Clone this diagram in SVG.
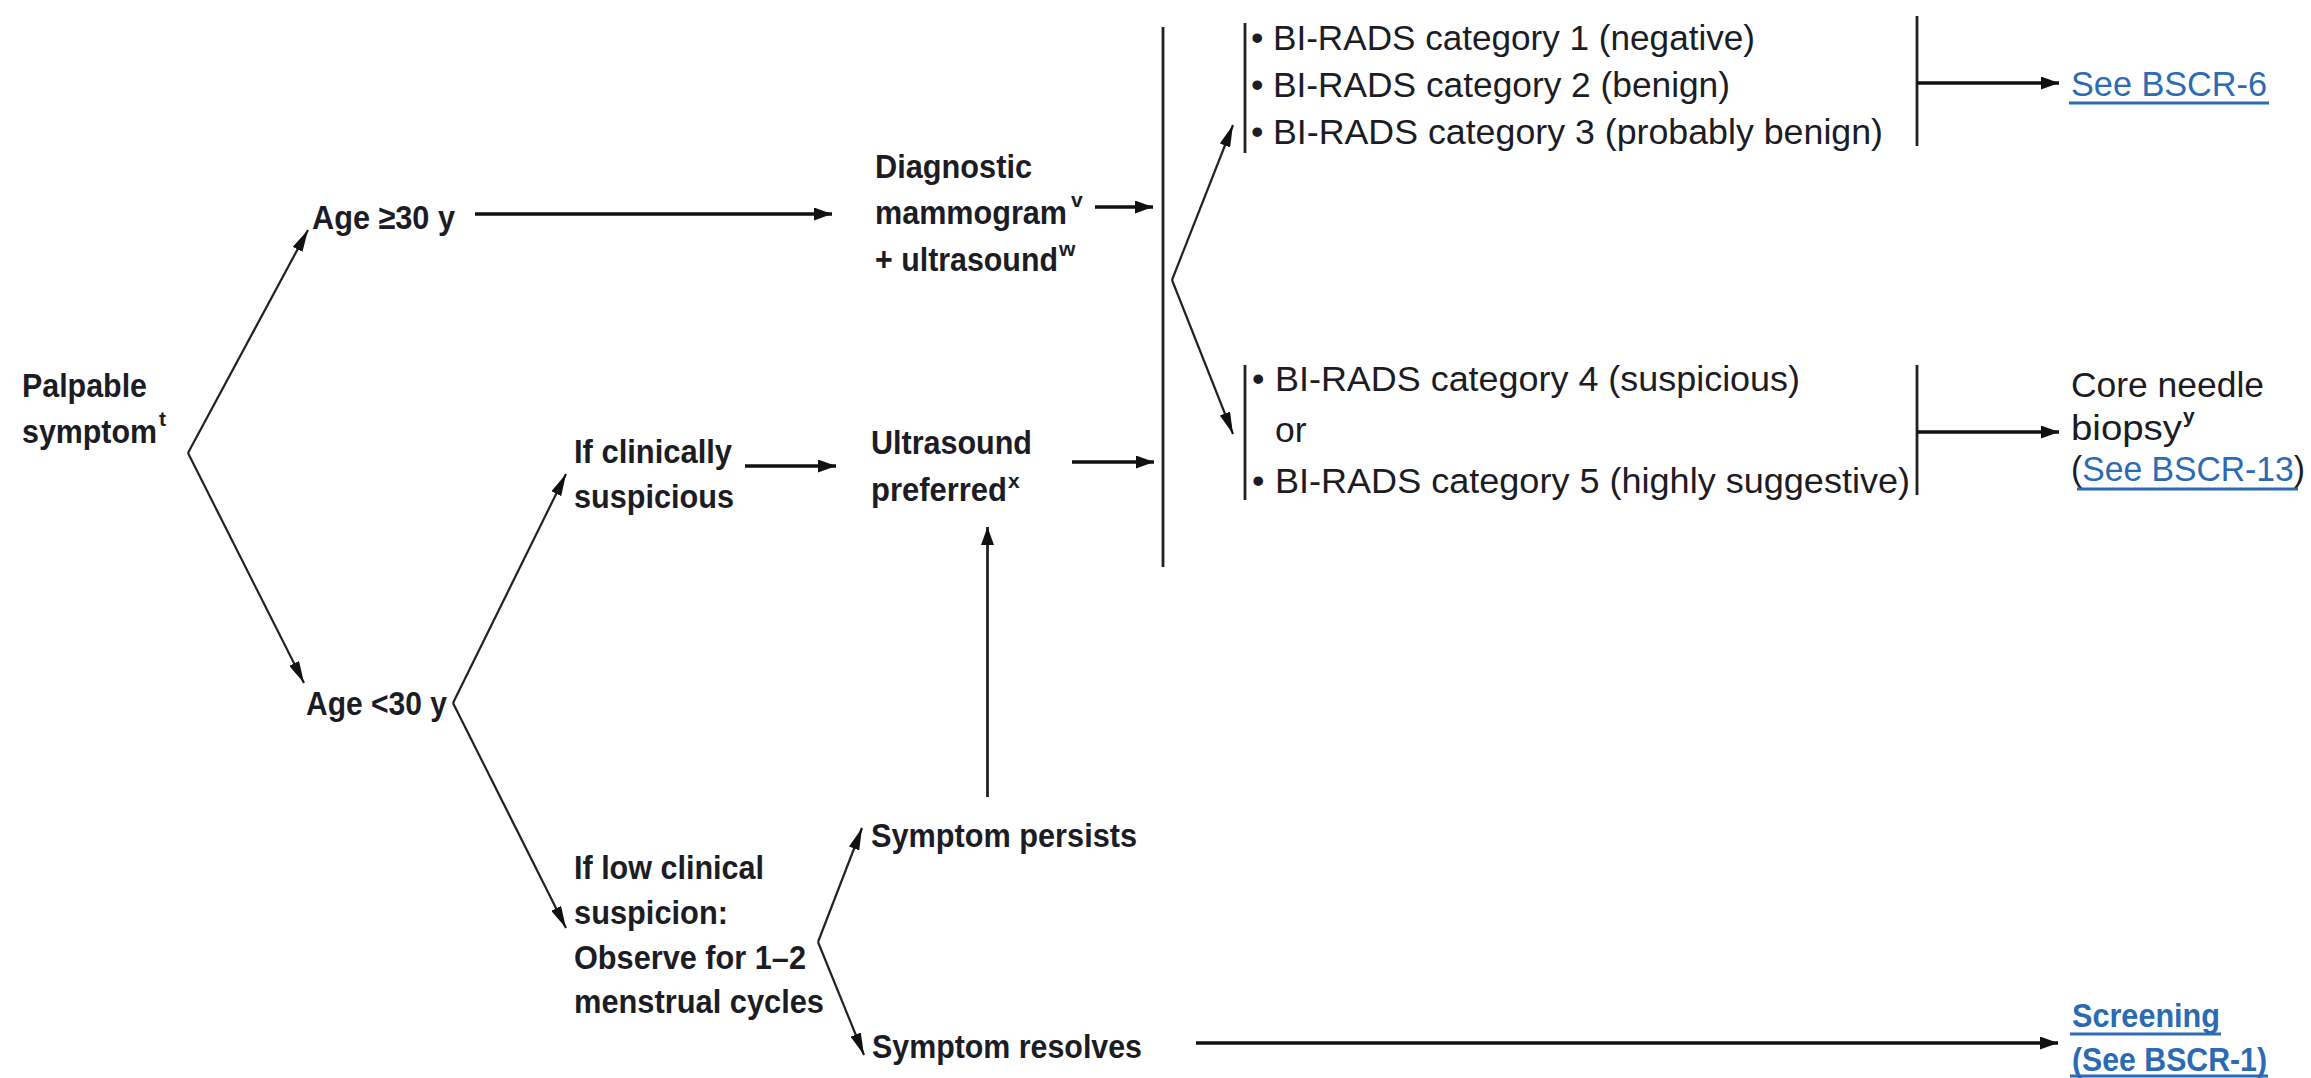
<svg xmlns="http://www.w3.org/2000/svg" width="2311" height="1078" viewBox="0 0 2311 1078">
  <style>
    .bc { font-family: "Liberation Sans Narrow", "Liberation Sans", Arial, sans-serif; font-weight: bold; font-size: 34px; fill: #1c1c24; }
    .rg { font-family: "Liberation Sans", Arial, sans-serif; font-size: 35.5px; fill: #1c1c24; }
    .sup { font-family: "Liberation Sans", Arial, sans-serif; font-weight: bold; font-size: 21px; fill: #1c1c24; }
    .link { fill: #2c6bb3; }
    .ul { stroke: #2c6bb3; stroke-width: 3; }
    .thick { stroke: #111; stroke-width: 3.5; fill: none; }
    .thin { stroke: #222; stroke-width: 2.2; fill: none; }
    .bar { stroke: #222; stroke-width: 2.8; fill: none; }
  </style>
  <defs>
    <marker id="ah" viewBox="0 0 18 13" refX="18" refY="6.5" markerWidth="18" markerHeight="13" markerUnits="userSpaceOnUse" orient="auto">
      <path d="M0,0 L18,6.5 L0,13 z" fill="#111"/>
    </marker>
    <marker id="ahs" viewBox="0 0 22 11" refX="22" refY="5.5" markerWidth="22" markerHeight="11" markerUnits="userSpaceOnUse" orient="auto">
      <path d="M0,0 L22,5.5 L0,11 z" fill="#111"/>
    </marker>
  </defs>
  <rect width="2311" height="1078" fill="#ffffff"/>

  <!-- connectors -->
  <g id="connectors">
    <line class="thin" x1="188" y1="453" x2="308" y2="230" marker-end="url(#ahs)"/>
    <line class="thin" x1="188" y1="453" x2="304" y2="683" marker-end="url(#ahs)"/>
    <line class="thick" x1="475" y1="214" x2="832" y2="214" marker-end="url(#ah)"/>
    <line class="thick" x1="1095" y1="207" x2="1153" y2="207" marker-end="url(#ah)"/>
    <line class="bar" x1="1163" y1="27" x2="1163" y2="567"/>
    <line class="thin" x1="1172" y1="280" x2="1233" y2="125" marker-end="url(#ahs)"/>
    <line class="thin" x1="1172" y1="280" x2="1233" y2="434" marker-end="url(#ahs)"/>
    <line class="bar" x1="1245" y1="23" x2="1245" y2="153"/>
    <line class="bar" x1="1245" y1="365" x2="1245" y2="500"/>
    <line class="bar" x1="1917" y1="16" x2="1917" y2="146"/>
    <line class="thick" x1="1917" y1="83" x2="2059" y2="83" marker-end="url(#ah)"/>
    <line class="bar" x1="1917" y1="365" x2="1917" y2="495"/>
    <line class="thick" x1="1917" y1="432" x2="2059" y2="432" marker-end="url(#ah)"/>
    <line class="thin" x1="453" y1="703" x2="566" y2="474" marker-end="url(#ahs)"/>
    <line class="thin" x1="453" y1="703" x2="566" y2="928" marker-end="url(#ahs)"/>
    <line class="thick" x1="745" y1="466" x2="836" y2="466" marker-end="url(#ah)"/>
    <line class="thick" x1="1072" y1="462" x2="1154" y2="462" marker-end="url(#ah)"/>
    <line class="bar" x1="987.5" y1="797" x2="987.5" y2="527" marker-end="url(#ah)"/>
    <line class="thin" x1="818" y1="942" x2="862" y2="828" marker-end="url(#ahs)"/>
    <line class="thin" x1="818" y1="942" x2="864" y2="1055" marker-end="url(#ahs)"/>
    <line class="thick" x1="1196" y1="1043" x2="2058" y2="1043" marker-end="url(#ah)"/>
  </g>

  <!-- nodes -->
  <g id="palpable">
    <text class="bc"><tspan x="22" y="397" textLength="125" lengthAdjust="spacingAndGlyphs">Palpable</tspan><tspan x="22" y="443" textLength="135" lengthAdjust="spacingAndGlyphs">symptom</tspan><tspan class="sup" dx="2" dy="-17">t</tspan></text>
  </g>

  <g id="age-30-plus">
    <text class="bc" x="312" y="229" textLength="143" lengthAdjust="spacingAndGlyphs">Age ≥30 y</text>
  </g>

  <g id="age-under-30">
    <text class="bc" x="306" y="715" textLength="141" lengthAdjust="spacingAndGlyphs">Age &lt;30 y</text>
  </g>

  <g id="clinically-suspicious">
    <text class="bc"><tspan x="574" y="463" textLength="158" lengthAdjust="spacingAndGlyphs">If clinically</tspan><tspan x="574" y="508" textLength="160" lengthAdjust="spacingAndGlyphs">suspicious</tspan></text>
  </g>

  <g id="low-suspicion">
    <text class="bc"><tspan x="574" y="879" textLength="190" lengthAdjust="spacingAndGlyphs">If low clinical</tspan><tspan x="574" y="924" textLength="154" lengthAdjust="spacingAndGlyphs">suspicion:</tspan><tspan x="574" y="969" textLength="232" lengthAdjust="spacingAndGlyphs">Observe for 1–2</tspan><tspan x="574" y="1013" textLength="250" lengthAdjust="spacingAndGlyphs">menstrual cycles</tspan></text>
  </g>

  <g id="diagnostic-mammogram">
    <text class="bc"><tspan x="875" y="178" textLength="157" lengthAdjust="spacingAndGlyphs">Diagnostic</tspan><tspan x="875" y="224" textLength="192" lengthAdjust="spacingAndGlyphs">mammogram</tspan><tspan class="sup" dx="4" dy="-17">v</tspan><tspan x="875" y="271" textLength="183" lengthAdjust="spacingAndGlyphs">+ ultrasound</tspan><tspan class="sup" dx="1" dy="-15">w</tspan></text>
  </g>

  <g id="ultrasound-preferred">
    <text class="bc"><tspan x="871" y="454" textLength="161" lengthAdjust="spacingAndGlyphs">Ultrasound</tspan><tspan x="871" y="501" textLength="136" lengthAdjust="spacingAndGlyphs">preferred</tspan><tspan class="sup" dx="1" dy="-13">x</tspan></text>
  </g>

  <g id="symptom-persists">
    <text class="bc" x="871" y="847" textLength="266" lengthAdjust="spacingAndGlyphs">Symptom persists</text>
  </g>

  <g id="symptom-resolves">
    <text class="bc" x="872" y="1058" textLength="270" lengthAdjust="spacingAndGlyphs">Symptom resolves</text>
  </g>

  <g id="birads-1-3">
    <text class="rg"><tspan x="1251" y="50">•</tspan><tspan x="1273" y="50" textLength="482" lengthAdjust="spacingAndGlyphs">BI-RADS category 1 (negative)</tspan><tspan x="1251" y="97">•</tspan><tspan x="1273" y="97" textLength="457" lengthAdjust="spacingAndGlyphs">BI-RADS category 2 (benign)</tspan><tspan x="1251" y="144">•</tspan><tspan x="1273" y="144" textLength="610" lengthAdjust="spacingAndGlyphs">BI-RADS category 3 (probably benign)</tspan></text>
  </g>

  <g id="birads-4-5">
    <text class="rg"><tspan x="1252" y="391">•</tspan><tspan x="1275" y="391" textLength="525" lengthAdjust="spacingAndGlyphs">BI-RADS category 4 (suspicious)</tspan><tspan x="1275" y="442">or</tspan><tspan x="1252" y="493">•</tspan><tspan x="1275" y="493" textLength="635" lengthAdjust="spacingAndGlyphs">BI-RADS category 5 (highly suggestive)</tspan></text>
  </g>

  <g id="see-bscr-6">
    <text class="rg link" x="2071" y="96" textLength="196" lengthAdjust="spacingAndGlyphs">See BSCR-6</text>
    <line class="ul" x1="2069" y1="103" x2="2269" y2="103"/>
  </g>

  <g id="core-needle-biopsy">
    <text class="rg"><tspan x="2071" y="397" textLength="193" lengthAdjust="spacingAndGlyphs">Core needle</tspan><tspan x="2071" y="440" textLength="111" lengthAdjust="spacingAndGlyphs">biopsy</tspan><tspan class="sup" dx="1" dy="-17">y</tspan><tspan x="2071" y="481" textLength="234" lengthAdjust="spacingAndGlyphs">(<tspan class="link">See BSCR-13</tspan>)</tspan></text>
    <line class="ul" x1="2077" y1="489" x2="2298" y2="489"/>
  </g>

  <g id="screening">
    <text class="bc link"><tspan x="2072" y="1027" textLength="148" lengthAdjust="spacingAndGlyphs">Screening</tspan><tspan x="2072" y="1071" textLength="195" lengthAdjust="spacingAndGlyphs">(See BSCR-1)</tspan></text>
    <line class="ul" x1="2070" y1="1034" x2="2221" y2="1034"/>
    <line class="ul" x1="2070" y1="1076" x2="2268" y2="1076"/>
  </g>
</svg>
